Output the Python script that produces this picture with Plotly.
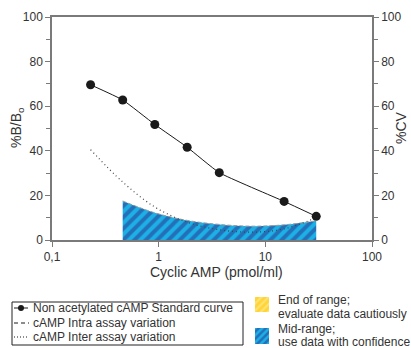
import plotly.graph_objects as go

# ---- data ----
std_conc = [0.23, 0.46, 0.92, 1.85, 3.7, 15, 30]
std_bb0 = [69.6, 62.8, 51.8, 41.6, 30.2, 17.3, 10.6]

intra_conc = [0.46, 0.92, 1.85, 3.7, 7.5, 15, 30]
intra_cv = [17.5, 12.2, 8.8, 7.0, 6.2, 6.8, 8.6]

inter_conc = [0.23, 0.46, 0.92, 1.85, 3.7, 7.5, 15, 30]
inter_cv = [40.5, 26.0, 14.8, 8.0, 4.6, 3.5, 5.0, 10.0]

x_tickvals = [0.1, 1, 10, 100]
x_ticktext = ["0,1", "1", "10", "100"]
y_tickvals = [0, 20, 40, 60, 80, 100]

W, H = 411, 348
FONT = "Liberation Sans, Arial, sans-serif"
TXT = "#333333"
AX = "#7a7a7a"
NAVY = "#2b3089"
CYAN = "#1cb0e6"


def px(x):
    return x / W


def py(y):
    return 1 - y / H


fig = go.Figure()

# mid-range hatched area (intra assay CV)
fig.add_trace(go.Scatter(
    x=intra_conc, y=intra_cv, mode="lines", line=dict(width=0, shape="spline"),
    fill="tozeroy", fillcolor=CYAN,
    fillpattern=dict(shape="/", bgcolor=CYAN, fgcolor=NAVY, size=8, solidity=0.5),
    showlegend=False, hoverinfo="skip"))
# intra assay dashed line
fig.add_trace(go.Scatter(
    x=intra_conc, y=intra_cv, mode="lines",
    line=dict(color="#9a9a9a", width=1, dash="4px,2px", shape="spline"),
    showlegend=False))
# inter assay dotted line
fig.add_trace(go.Scatter(
    x=inter_conc, y=inter_cv, mode="lines",
    line=dict(color="#444444", width=1.2, dash="1px,3px", shape="spline"),
    showlegend=False))
# standard curve
fig.add_trace(go.Scatter(
    x=std_conc, y=std_bb0, mode="lines+markers",
    line=dict(color="#1a1a1a", width=1, shape="spline", smoothing=0.4),
    marker=dict(color="#1a1a1a", size=9),
    showlegend=False))

# dummy trace to activate yaxis2
fig.add_trace(go.Scatter(x=[0.1], y=[0], yaxis="y2", mode="markers",
                         marker=dict(opacity=0), showlegend=False, hoverinfo="skip"))

# legend swatches drawn on an invisible pixel overlay axis
sw_x = [255, 269, 269, 255, 255]
fig.add_trace(go.Scatter(
    x=sw_x, y=[297, 297, 312, 312, 297], xaxis="x3", yaxis="y3", mode="lines",
    line=dict(width=0), fill="toself", fillcolor="#ffd84a",
    fillpattern=dict(shape="/", bgcolor="#ffd437", fgcolor="#fff0a8", size=5, solidity=0.45),
    showlegend=False, hoverinfo="skip"))
fig.add_trace(go.Scatter(
    x=sw_x, y=[328, 328, 344, 344, 328], xaxis="x3", yaxis="y3", mode="lines",
    line=dict(width=0), fill="toself", fillcolor=CYAN,
    fillpattern=dict(shape="/", bgcolor=CYAN, fgcolor=NAVY, size=5, solidity=0.5),
    showlegend=False, hoverinfo="skip"))

axis_font = dict(family=FONT, size=12, color=TXT)

fig.update_layout(
    width=W, height=H,
    margin=dict(l=0, r=0, t=0, b=0, pad=0, autoexpand=False),
    paper_bgcolor="white", plot_bgcolor="rgba(0,0,0,0)",
    font=dict(family=FONT, color=TXT),
    xaxis=dict(
        type="log", range=[-1, 2], domain=[px(52), px(372)], anchor="y",
        automargin=False,
        tickvals=x_tickvals, ticktext=x_ticktext, tickfont=axis_font,
        ticks="outside", ticklen=5, tickcolor=AX, showgrid=False, zeroline=False,
        showline=True, linecolor=AX, linewidth=1.5, mirror=True),
    yaxis=dict(
        range=[0, 100], domain=[py(240), py(17)], anchor="x", automargin=False,
        tickvals=y_tickvals, tickfont=axis_font, ticks="outside", ticklen=5,
        tickcolor=AX, showgrid=False, zeroline=False, showline=True,
        linecolor=AX, linewidth=1.5,
        minor=dict(dtick=10, ticks="outside", ticklen=4, tickcolor=AX)),
    yaxis2=dict(
        range=[0, 100], overlaying="y", side="right", anchor="x", automargin=False,
        tickvals=y_tickvals, tickfont=axis_font, ticks="outside", ticklen=5,
        tickcolor=AX, showgrid=False, zeroline=False, showline=True,
        linecolor=AX, linewidth=1.5,
        minor=dict(dtick=10, ticks="outside", ticklen=4, tickcolor=AX)),
    xaxis3=dict(range=[0, W], domain=[0, 1], visible=False, anchor="y3",
                fixedrange=True, automargin=False),
    yaxis3=dict(range=[H, 0], domain=[0, 1], visible=False, anchor="x3",
                fixedrange=True, automargin=False),
)


def label(txt, x, y, size=12, angle=0, xanchor="center"):
    return dict(text=txt, x=px(x), y=py(y), xref="paper", yref="paper",
                xanchor=xanchor, yanchor="middle", showarrow=False, textangle=angle,
                borderpad=0, font=dict(family=FONT, size=size, color=TXT))


ann = [
    label("Cyclic AMP (pmol/ml)", 216, 272, size=14),
    label("%B/B<sub>o</sub>", 17, 128, size=14, angle=-90),
    label("%CV", 401, 128, size=14, angle=-90),
]
for txt, yy in [("Non acetylated cAMP Standard curve", 308),
                ("cAMP Intra assay variation", 323),
                ("cAMP Inter assay variation", 337)]:
    ann.append(label(txt, 32, yy, xanchor="left"))
for txt, yy in [("End of range;", 300), ("evaluate data cautiously", 314),
                ("Mid-range;", 328.5), ("use data with confidence", 342)]:
    ann.append(label(txt, 277, yy, xanchor="left"))
fig.update_layout(annotations=ann)

shapes = [
    dict(type="rect", xref="paper", yref="paper", x0=px(12), x1=px(243),
         y0=py(302), y1=py(345), line=dict(color="#222222", width=1)),
    dict(type="line", xref="paper", yref="paper", x0=px(14), x1=px(28),
         y0=py(308), y1=py(308), line=dict(color="#1a1a1a", width=1)),
    dict(type="circle", xref="paper", yref="paper", x0=px(18), x1=px(24),
         y0=py(311), y1=py(305), fillcolor="#1a1a1a", line=dict(color="#1a1a1a", width=0)),
    dict(type="line", xref="paper", yref="paper", x0=px(14), x1=px(29),
         y0=py(323), y1=py(323), line=dict(color="#1a1a1a", width=1, dash="4px,3px")),
    dict(type="line", xref="paper", yref="paper", x0=px(14), x1=px(29),
         y0=py(337), y1=py(337), line=dict(color="#1a1a1a", width=1, dash="1px,2px")),
]
fig.update_layout(shapes=shapes)

fig.write_html(
    "out.html",
    config={"displayModeBar": False},
    post_script="document.body.style.margin='0px';document.body.style.overflow='hidden';",
)
